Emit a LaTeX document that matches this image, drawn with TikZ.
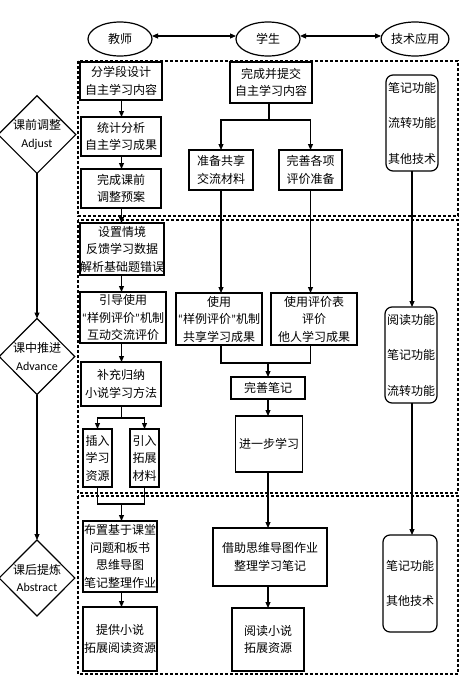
\documentclass[tikz,border=0pt]{standalone}
\usepackage{fontspec}
\setmainfont{Noto Sans CJK SC}
\newfontfamily\latf{Carlito}
\usetikzlibrary{arrows.meta,shapes.geometric}
\newcommand{\myopq}{{\latf “}}
\newcommand{\myclq}{{\latf ”}}
\begin{document}
\begin{tikzpicture}[x=1pt,y=-1pt,
  font=\fontsize{12}{17.5}\selectfont,
  every node/.style={inner sep=0pt, outer sep=0pt, text=black},
  bx/.style={draw, line width=1.2pt, rectangle, align=center},
  tech/.style={draw, line width=1.2pt, rounded corners=7pt, align=center},
  role/.style={draw, line width=1.2pt, ellipse, minimum width=64pt, minimum height=34pt},
  stage/.style={draw, line width=1.2pt, diamond, minimum width=75pt, minimum height=76pt, align=center},
  ln/.style={line width=1.1pt},
  arr/.style={line width=1.1pt, -{Triangle[length=6pt,width=5pt]}},
  darr/.style={line width=1.1pt, {Triangle[length=6pt,width=5pt]}-{Triangle[length=6pt,width=5pt]}},
  frame/.style={line width=1.2pt, dash pattern=on 3pt off 2pt}
]
\fill[white] (0,0) rectangle (464,678);
\useasboundingbox (0,0) rectangle (464,678);

% frames
\draw[frame] (78,61) rectangle (458,216);
\draw[frame] (78,220) rectangle (458,493);
\draw[frame] (78,496) rectangle (458,674);

% roles
\node[role] (e1) at (120,39) {教师};
\node[role] (e2) at (268,39) {学生};
\node[role] (e3) at (415,39) {技术应用};
\draw[darr] ([yshift=3pt]e1.east) -- ([yshift=3pt]e2.west);
\draw[darr] ([yshift=3pt]e2.east) -- ([yshift=3pt]e3.west);

% stages
\node[stage] (d1) at (37,134.5) {课前调整\\{\latf\fontsize{12}{13}\selectfont Adjust}};
\node[stage] (d2) at (37,356.5) {课中推进\\{\latf\fontsize{12}{13}\selectfont Advance}};
\node[stage] (d3) at (37,578) {课后提炼\\{\latf\fontsize{12}{13}\selectfont Abstract}};
\draw[arr] (d1.south) -- (d2.north);
\draw[arr] (d2.south) -- (d3.north);

% teacher column
\node[bx, minimum width=82pt, minimum height=38pt] (t1) at (121,81) {分学段设计\\自主学习内容};
\node[bx, minimum width=80pt, minimum height=39pt] (t2) at (121,136.5) {统计分析\\自主学习成果};
\node[bx, minimum width=80pt, minimum height=39pt] (t3) at (121,188.5) {完成课前\\调整预案};
\node[bx, minimum width=84pt, minimum height=52pt] (t4) at (122,249) {设置情境\\反馈学习数据\\解析基础题错误};
\node[bx, minimum width=86pt, minimum height=51pt] (t5) at (123,317.5) {引导使用\\\myopq 样例评价\myclq 机制\\互动交流评价};
\node[bx, minimum width=80pt, minimum height=44pt] (t6) at (121,384) {补充归纳\\小说学习方法};
\node[bx, minimum width=29pt, minimum height=58pt] (t7a) at (97.5,458) {插入\\学习\\资源};
\node[bx, minimum width=29pt, minimum height=58pt] (t7b) at (144.5,458) {引入\\拓展\\材料};
\node[bx, minimum width=74pt, minimum height=71pt] (t8) at (120,556.5) {布置基于课堂\\问题和板书\\思维导图\\笔记整理作业};
\node[bx, minimum width=74pt, minimum height=64pt] (t9) at (120,639) {提供小说\\拓展阅读资源};

\coordinate (tc) at (121.5,0);
\draw[arr] (t1.south -| tc) -- (t2.north -| tc);
\draw[arr] (t2.south -| tc) -- (t3.north -| tc);
\draw[arr] (t3.south -| tc) -- (t4.north -| tc);
\draw[arr] (t4.south -| tc) -- (t5.north -| tc);
\draw[arr] (t5.south -| tc) -- (t6.north -| tc);
\coordinate (sp2) at (121.5,418);
\draw[ln] (t6.south -| tc) -- (sp2);
\draw[arr] (sp2) -| (t7a.north);
\draw[arr] (sp2) -| (t7b.north);
\coordinate (m2) at (121.5,504);
\draw[ln] (t7a.south) |- (m2) -| (t7b.south);
\draw[arr] (m2) -- (t8.north -| m2);
\draw[arr] (t8.south -| tc) -- (t9.north -| tc);

% student column
\node[bx, minimum width=82pt, minimum height=41pt] (s1) at (271,82.5) {完成并提交\\自主学习内容};
\node[bx, minimum width=64pt, minimum height=40pt] (s2) at (221,170) {准备共享\\交流材料};
\node[bx, minimum width=63pt, minimum height=40pt] (s3) at (310.5,170) {完善各项\\评价准备};
\node[bx, minimum width=86pt, minimum height=52pt] (s4) at (219,319) {使用\\\myopq 样例评价\myclq 机制\\共享学习成果};
\node[bx, minimum width=86pt, minimum height=52pt] (s5) at (314,319) {使用评价表\\评价\\他人学习成果};
\node[bx, minimum width=74pt, minimum height=22pt] (s6) at (268,388) {完善笔记};
\node[bx, minimum width=67pt, minimum height=56pt] (s7) at (269,444) {进一步学习};
\node[bx, minimum width=114pt, minimum height=58pt] (s8) at (270,557) {借助思维导图作业\\整理学习笔记};
\node[bx, minimum width=72pt, minimum height=63pt] (s9) at (268,639.5) {阅读小说\\拓展资源};

\coordinate (sp1) at (269,120);
\draw[ln] (s1.south -| sp1) -- (sp1);
\draw[arr] (sp1) -| (s2.north);
\draw[arr] (sp1) -| (s3.north);
\draw[arr] (s2.south) -- (s4.north -| s2.south);
\draw[arr] (s3.south) -- (s5.north -| s3.south);
\coordinate (m1) at (268,363);
\draw[ln] (s4.south -| s2.south) |- (m1) -| (s5.south -| s3.south);
\draw[arr] (m1) -- (s6.north -| m1);
\draw[arr] (s6.south -| m1) -- (s7.north -| m1);
\draw[arr] (s7.south -| m1) -- (s8.north -| m1);
\draw[arr] (s8.south -| m1) -- (s9.north -| m1);

% technology column
\node[tech, minimum width=52pt, minimum height=96pt] (k1) at (412,123) {笔记功能\\[18pt]流转功能\\[18pt]其他技术};
\node[tech, minimum width=52pt, minimum height=96pt] (k2) at (411,355) {阅读功能\\[18pt]笔记功能\\[18pt]流转功能};
\node[tech, minimum width=54pt, minimum height=97pt] (k3) at (410,583.5) {笔记功能\\[17.5pt]其他技术};
\coordinate (kc) at (412,0);
\draw[arr] (k1.south -| kc) -- (k2.north -| kc);
\draw[arr] (k2.south -| kc) -- (k3.north -| kc);
\end{tikzpicture}
\end{document}
